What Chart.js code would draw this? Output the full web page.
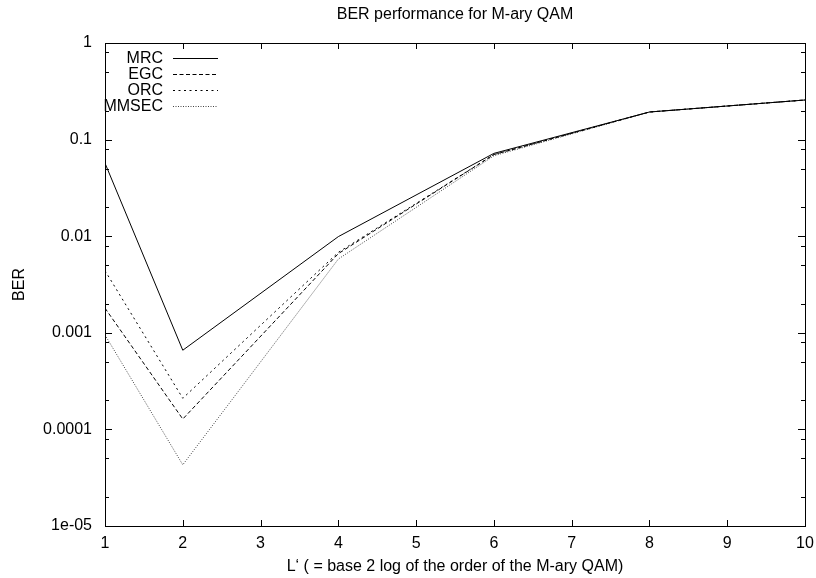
<!DOCTYPE html>
<html>
<head>
<meta charset="utf-8">
<script src="https://cdn.jsdelivr.net/npm/chart.js@4/dist/chart.umd.min.js"></script>
<style>
  html, body { margin: 0; padding: 0; background: #fff; }
  #wrap { width: 816px; height: 578px; }
</style>
</head>
<body>
<div id="wrap"><canvas id="berChart" width="816" height="578"></canvas></div>
<script>
// --- Datos ---
const xValues = [1, 2, 4, 6, 8, 10];
const mrcBer   = [0.057, 0.00066, 0.0099, 0.072, 0.193, 0.257];
const egcBer   = [0.0018, 0.000128, 0.0066, 0.070, 0.193, 0.257];
const orcBer   = [0.0044, 0.00021, 0.0068, 0.070, 0.193, 0.257];
const mmsecBer = [0.00095, 0.000043, 0.0058, 0.068, 0.193, 0.257];

const seriesNames = ['MRC', 'EGC', 'ORC', 'MMSEC'];
const yTickValues = [1, 0.1, 0.01, 0.001, 0.0001, 0.00001];
const yTickLabels = ['1', '0.1', '0.01', '0.001', '0.0001', '1e-05'];
const yMinorFactors = [2, 5, 8];
const xTickValues = [1, 2, 3, 4, 5, 6, 7, 8, 9, 10];

const FONT = 'Liberation Sans, Arial, Helvetica, sans-serif';
const FSIZE = 16;

const toPoints = arr => arr.map((v, i) => ({ x: xValues[i], y: v }));

const dashes = [[], [4, 2.5], [2, 3.5], [1, 1.5]];
const colors = ['#000', '#000', '#000', '#444'];
const allSeries = [mrcBer, egcBer, orcBer, mmsecBer];

const datasets = allSeries.map((s, i) => ({
    label: seriesNames[i],
    data: toPoints(s),
    borderColor: colors[i],
    borderWidth: 1,
    borderDash: dashes[i],
    pointRadius: 0,
    fill: false,
    tension: 0
}));

// Marco, ticks hacia dentro y leyenda al estilo gnuplot
const gnuplotFrame = {
    id: 'gnuplotFrame',
    afterDraw(chart) {
        const ctx = chart.ctx;
        const { left, right, top, bottom } = chart.chartArea;
        const xs = chart.scales.x;
        const ys = chart.scales.y;
        ctx.save();
        ctx.strokeStyle = '#000';
        ctx.lineWidth = 1;
        ctx.setLineDash([]);
        ctx.strokeRect(Math.round(left) + 0.5, Math.round(top) + 0.5,
                       Math.round(right - left), Math.round(bottom - top));

        ctx.beginPath();
        xTickValues.forEach(v => {
            const px = Math.round(xs.getPixelForValue(v)) + 0.5;
            ctx.moveTo(px, bottom); ctx.lineTo(px, bottom - 6);
            ctx.moveTo(px, top); ctx.lineTo(px, top + 6);
        });
        yTickValues.forEach(v => {
            const py = Math.round(ys.getPixelForValue(v)) + 0.5;
            ctx.moveTo(left, py); ctx.lineTo(left + 7, py);
            ctx.moveTo(right, py); ctx.lineTo(right - 7, py);
            if (v < 1) {
                yMinorFactors.forEach(f => {
                    const pm = Math.round(ys.getPixelForValue(v * f)) + 0.5;
                    ctx.moveTo(left, pm); ctx.lineTo(left + 4, pm);
                    ctx.moveTo(right, pm); ctx.lineTo(right - 4, pm);
                });
            }
        });
        ctx.stroke();

        // leyenda
        ctx.font = FSIZE + 'px ' + FONT;
        ctx.textAlign = 'right';
        ctx.textBaseline = 'middle';
        const rows = [58, 74, 90, 106];
        chart.data.datasets.forEach((ds, i) => {
            ctx.fillStyle = '#000';
            ctx.fillText(ds.label, 163, rows[i] + 1);
            ctx.beginPath();
            ctx.strokeStyle = ds.borderColor;
            ctx.setLineDash(ds.borderDash);
            ctx.moveTo(173, rows[i] + 0.5);
            ctx.lineTo(218, rows[i] + 0.5);
            ctx.stroke();
        });
        ctx.restore();
    }
};

new Chart(document.getElementById('berChart'), {
    type: 'line',
    data: { datasets },
    options: {
        responsive: false,
        animation: false,
        layout: { padding: { left: 0, right: 11, top: 0, bottom: 0 } },
        plugins: {
            legend: { display: false },
            tooltip: { enabled: false },
            title: {
                display: true,
                text: 'BER performance for M-ary QAM',
                fullSize: false,
                color: '#000',
                font: { family: FONT, size: FSIZE, weight: 'normal', lineHeight: 1.2 },
                padding: { top: 5, bottom: 18.8 }
            }
        },
        scales: {
            x: {
                type: 'linear',
                min: 1,
                max: 10,
                afterFit: s => { s.height = 52; s.paddingLeft = 0; s.paddingRight = 0; },
                afterBuildTicks: s => { s.ticks = xTickValues.map(v => ({ value: v })); },
                grid: { display: false, drawTicks: false },
                border: { display: false },
                ticks: {
                    color: '#000',
                    padding: 8,
                    font: { family: FONT, size: FSIZE },
                    maxRotation: 0,
                    callback: v => String(v)
                },
                title: {
                    display: true,
                    text: 'L\u2018 ( = base 2 log of the order of the M-ary QAM)',
                    color: '#000',
                    font: { family: FONT, size: FSIZE, lineHeight: 1.2 },
                    padding: { top: 0, bottom: 1.4 }
                }
            },
            y: {
                type: 'logarithmic',
                min: 0.00001,
                max: 1,
                afterFit: s => { s.width = 105; s.paddingTop = 0; s.paddingBottom = 0; },
                afterBuildTicks: s => { s.ticks = yTickValues.map(v => ({ value: v })); },
                grid: { display: false, drawTicks: false },
                border: { display: false },
                ticks: {
                    color: '#000',
                    padding: 13,
                    font: { family: FONT, size: FSIZE },
                    callback: v => {
                        const i = yTickValues.findIndex(t => Math.abs(t - v) / t < 1e-6);
                        return i >= 0 ? yTickLabels[i] : '';
                    }
                },
                title: {
                    display: true,
                    text: 'BER',
                    color: '#000',
                    font: { family: FONT, size: FSIZE, lineHeight: 1.2 },
                    padding: { top: 9.5, bottom: 0 }
                }
            }
        }
    },
    plugins: [gnuplotFrame]
});
</script>
</body>
</html>
